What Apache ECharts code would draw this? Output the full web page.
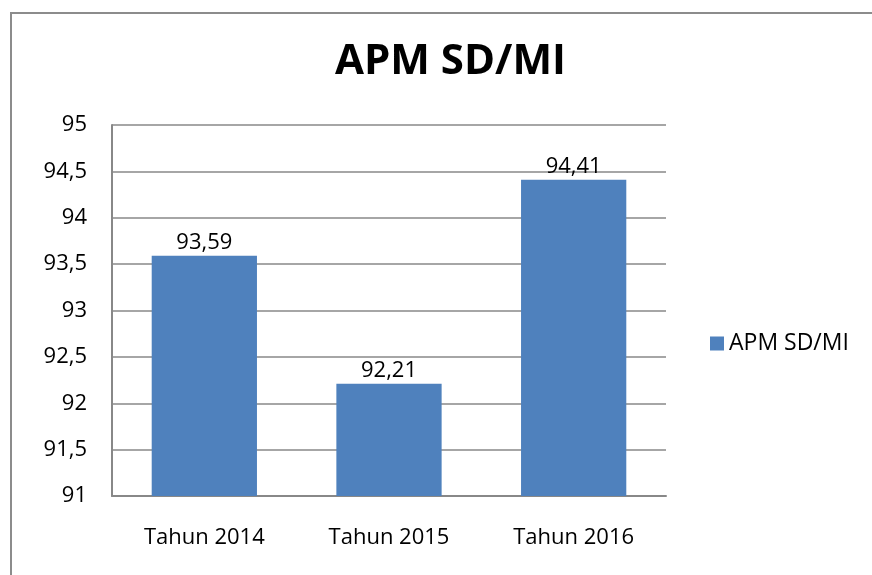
<!DOCTYPE html>
<html>
<head>
<meta charset="utf-8">
<script src="https://cdn.jsdelivr.net/npm/echarts@6/dist/echarts.min.js"></script>
<style>
  html, body { margin: 0; padding: 0; background: #fff; }
  #chart { width: 872px; height: 575px; }
</style>
</head>
<body>
<div id="chart"></div>
<script>
// data
const categories = ['Tahun 2014', 'Tahun 2015', 'Tahun 2016'];
const apmValues = [93.59, 92.21, 94.41];
const seriesName = 'APM SD/MI';
const titleText = 'APM SD/MI';

const fontFamily = '"Open Sans", "Noto Sans", sans-serif';
const fmt = v => String(v).replace('.', ',');

const chart = echarts.init(document.getElementById('chart'));

chart.setOption({
  backgroundColor: '#fff',
  animation: false,
  title: {
    text: titleText,
    left: 330,
    top: 36,
    textStyle: { fontFamily, fontWeight: 'bold', fontSize: 42, color: '#000' }
  },
  legend: {
    data: [seriesName],
    orient: 'vertical',
    left: 705,
    top: 327,
    itemWidth: 14,
    itemHeight: 14,
    itemGap: 6,
    icon: 'rect',
    textStyle: { fontFamily, fontSize: 23, color: '#000' }
  },
  // outer chart border (runs off the right and bottom edges like the reference)
  graphic: [{
    type: 'rect',
    shape: { x: 11, y: 13, width: 900, height: 600 },
    style: { fill: null, stroke: '#8c8c8c', lineWidth: 2 },
    silent: true
  }],
  grid: { left: 112, right: 206, top: 125, bottom: 79, containLabel: false },
  xAxis: {
    type: 'category',
    data: categories,
    axisLine: { show: true, lineStyle: { color: '#888', width: 2 } },
    axisTick: { show: false },
    axisLabel: { fontFamily, fontSize: 22, color: '#000', margin: 31 }
  },
  yAxis: {
    type: 'value',
    min: 91,
    max: 95,
    interval: 0.5,
    axisLine: { show: true, lineStyle: { color: '#888', width: 2 } },
    axisTick: { show: false },
    splitLine: { lineStyle: { color: '#888', width: 1.5 } },
    axisLabel: {
      fontFamily, fontSize: 22, color: '#000', margin: 25,
      formatter: v => fmt(v)
    }
  },
  series: [{
    name: seriesName,
    type: 'bar',
    data: apmValues,
    barWidth: '57%',
    itemStyle: { color: '#4f81bd' },
    label: {
      show: true,
      position: 'top',
      distance: 2,
      fontFamily, fontSize: 22, color: '#000',
      formatter: p => fmt(p.value)
    }
  }]
});
</script>
</body>
</html>
